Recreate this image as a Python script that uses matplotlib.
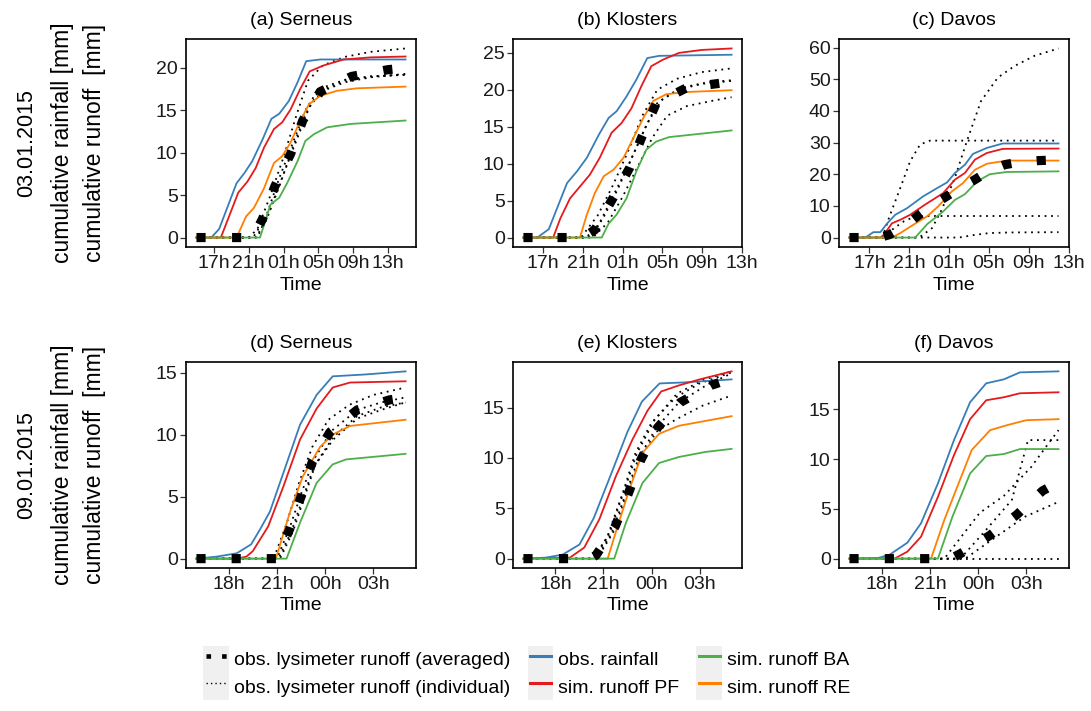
import numpy as np
import matplotlib
matplotlib.use("Agg")
import matplotlib.pyplot as plt
from matplotlib.lines import Line2D
from matplotlib.patches import Rectangle
from matplotlib.legend_handler import HandlerLine2D

plt.rcParams['font.family'] = ['Liberation Sans', 'DejaVu Sans']

# ---- event 03.01.2015 (hours since 00h on the event day) ----
a_rain = [(15, 0), (16.7, 0), (17.6, 1.0), (19.6, 6.4), (20.5, 7.6), (21.4, 9.0), (22.6, 11.6), (23.6, 14.0),
          (24.5, 14.6), (25.6, 16.1), (26.6, 18.3), (27.6, 20.8), (29.2, 21.0), (39, 21.0)]
a_pf = [(15, 0), (17.8, 0), (19.8, 5.3), (20.85, 6.6), (21.8, 8.2), (22.75, 10.6), (23.9, 12.8), (24.85, 13.6),
        (25.8, 15.1), (26.9, 17.5), (28.0, 19.6), (29.6, 20.3), (31.9, 21.0), (35, 21.25), (39, 21.35)]
a_re = [(15, 0), (19.6, 0), (20.7, 2.5), (21.6, 3.5), (22.75, 5.8), (23.9, 8.8), (24.85, 9.6), (25.8, 11.2),
        (26.75, 13.4), (27.9, 15.7), (29.2, 16.7), (31.1, 17.3), (33.4, 17.6), (39, 17.8)]
a_ba = [(15, 0), (22.3, 0), (23.5, 3.9), (24.5, 4.7), (25.4, 6.4), (26.6, 9.0), (27.5, 11.4), (28.5, 12.2),
        (30.0, 13.0), (32.7, 13.4), (39, 13.8)]
a_avg = [(15, 0), (21.5, 0), (22.6, 2.25), (24.0, 6.05), (25.8, 9.85), (27.2, 13.8), (29.2, 17.2), (32.8, 19.0),
         (37, 19.8), (39, 20.0)]
a_ind1 = [(15, 0), (21.0, 0), (22.0, 1.0), (23.5, 5.0), (25.0, 9.5), (26.5, 14.5), (27.8, 18.5), (29.5, 20.3),
          (32, 21.3), (35, 21.9), (39, 22.3)]
a_ind2 = [(15, 0), (22.0, 0), (23.5, 3.5), (25, 7.5), (26.5, 11.5), (28, 15.5), (29.5, 17.3), (32, 18.3),
          (35, 18.9), (39, 19.3)]
a_ind3 = [(15, 0), (21.5, 0), (23, 2.5), (24.5, 7), (26, 11), (27.5, 15), (29, 17.5), (32, 18.6), (35, 19.0),
          (39, 19.2)]
a_ind4 = [(15, 0), (21.8, 0), (23, 2.0), (24.5, 6), (26, 10.5), (27.5, 14.5), (29, 17.2), (32, 18.5), (35, 19.0),
          (39, 19.2)]

b_rain = [(15, 0), (16.4, 0), (17.56, 1.13), (19.4, 7.37), (20.4, 8.96), (21.4, 10.8), (22.6, 13.9), (23.6, 16.2),
          (24.4, 17.1), (25.4, 19.1), (26.4, 21.4), (27.5, 24.3), (28.7, 24.6), (36, 24.75)]
b_pf = [(15, 0), (18.0, 0), (18.73, 2.6), (19.7, 5.3), (20.7, 6.9), (21.7, 8.5), (22.7, 10.8), (23.9, 14.2),
        (24.9, 15.5), (25.9, 17.5), (26.9, 20.5), (27.9, 23.2), (29.1, 24.1), (30.7, 25.0), (33, 25.4), (36, 25.6)]
b_re = [(15, 0), (20.7, 0), (21.4, 3.1), (22.2, 6.0), (23.1, 8.3), (24.1, 9.2), (25.1, 10.8), (26.1, 13.5),
        (27.1, 16.2), (28.1, 18.5), (29.4, 19.4), (31.4, 19.7), (36, 19.95)]
b_ba = [(15, 0), (22.9, 0), (23.6, 1.9), (24.4, 3.1), (25.4, 5.3), (26.4, 9.0), (27.4, 11.9), (28.4, 13.0),
        (29.7, 13.6), (36, 14.5)]
b_avg = [(15, 0), (21.0, 0), (22.2, 1.04), (24.0, 5.25), (25.7, 9.4), (27.0, 13.8), (28.4, 18.2), (31.5, 20.3),
         (34.9, 20.9), (36, 21.1)]
b_ind1 = [(15, 0), (20.8, 0), (22.5, 3), (24, 7), (25.5, 11.5), (27, 16.5), (28.5, 20), (30.5, 21.5), (33, 22.4),
          (36, 22.9)]
b_ind2 = [(15, 0), (21.3, 0), (22.5, 1.5), (24, 5.5), (25.5, 9.5), (27, 14), (28.5, 18.2), (30.5, 20.0),
          (33, 20.8), (36, 21.2)]
b_ind3 = [(15, 0), (22, 0), (23.5, 2), (25, 5.5), (26.5, 9.5), (28, 13.5), (29.5, 16.5), (31.5, 17.8), (34, 18.5),
          (36, 19.0)]
b_ind4 = [(15, 0), (21.5, 0), (23, 2.5), (24.5, 6.5), (26, 11), (27.5, 15.5), (29, 18.7), (31, 20.3), (33.5, 21.0),
          (36, 21.3)]

c_rain = [(15, 0), (16.6, 0), (17.4, 1.7), (18.1, 1.7), (18.8, 4.5), (19.6, 7.2), (20.8, 9.3), (22.4, 13.0),
          (23.8, 15.6), (24.8, 17.4), (25.6, 20.4), (26.6, 23.0), (27.4, 26.4), (28.8, 28.3), (30.4, 29.7),
          (36, 29.7)]
c_pf = [(15, 0), (18.1, 0), (18.43, 0.8), (19.27, 4.5), (20.1, 5.6), (21.1, 7.2), (22.6, 10.4), (24.4, 14.0),
        (25.6, 18.3), (26.6, 20.4), (27.6, 24.6), (28.8, 26.7), (30.4, 28.0), (36, 28.1)]
c_re = [(15, 0), (19.27, 0), (20.1, 1.4), (21.4, 4.0), (22.8, 6.7), (23.9, 9.8), (25.3, 14.6), (26.4, 17.2),
        (27.6, 21.4), (28.8, 23.3), (30.8, 24.3), (36, 24.3)]
c_ba = [(15, 0), (21.6, 0), (22.8, 4.2), (24.4, 8.2), (25.6, 11.9), (26.6, 13.7), (27.8, 17.7), (29.1, 20.0),
        (30.8, 20.7), (36, 20.9)]
c_avg = [(15, 0), (18.0, 0), (19, 0.9), (20.5, 3.5), (21.8, 6.7), (23, 9.5), (24.5, 12.5), (26, 15.5), (27.5, 18.1),
         (29, 21.0), (30.6, 23.0), (32, 23.8), (34, 24.3), (36, 24.5)]
c_ind1 = [(15, 0), (18.3, 0), (19.0, 6.5), (20.1, 15.6), (21.1, 24.1), (22.1, 29.4), (23.1, 30.6), (36, 30.6)]
c_ind2 = [(15, 0), (22.0, 0), (23.3, 3), (24.3, 9), (25.6, 19), (26.8, 30.5), (28.2, 43), (29.9, 50.5),
          (31.6, 54.2), (33.6, 57.4), (36, 59.7)]
c_ind3 = [(15, 0), (18.3, 0), (19.5, 3), (20.5, 5.2), (21.5, 6.5), (22.5, 6.8), (36, 6.8)]
c_ind4 = [(15, 0), (26.0, 0), (27.5, 0.8), (29, 1.4), (31, 1.6), (36, 1.7)]

# ---- event 09.01.2015 ----
d_rain = [(16, 0), (17.25, 0.16), (18.5, 0.43), (19.4, 1.15), (19.95, 2.35), (20.57, 3.8), (21.4, 6.9),
          (22.44, 10.8), (23.47, 13.2), (24.47, 14.7), (26.5, 14.85), (29, 15.1)]
d_pf = [(16, 0), (18.5, 0), (19.1, 0.16), (19.5, 0.6), (20.46, 2.6), (21.4, 5.8), (22.44, 9.6), (23.47, 12.1),
        (24.47, 13.8), (25.55, 14.2), (29, 14.3)]
d_re = [(16, 0), (20.94, 0), (21.8, 3.7), (22.6, 6.6), (23.68, 9.0), (24.47, 10.0), (25.55, 10.7), (29, 11.2)]
d_ba = [(16, 0), (21.6, 0), (22.44, 2.9), (23.47, 6.1), (24.47, 7.6), (25.3, 8.0), (29, 8.45)]
d_avg = [(16, 0), (21.0, 0), (21.8, 2.4), (22.5, 5.0), (23.2, 7.8), (24.3, 10.2), (26, 12.0), (28, 12.8), (29, 13.0)]
d_ind1 = [(16, 0), (20.8, 0), (21.6, 2.8), (22.4, 6.2), (23.2, 9), (24.2, 11.2), (25.5, 12.4), (27, 13.2), (29, 13.8)]
d_ind2 = [(16, 0), (21.0, 0), (21.8, 2.5), (22.5, 5.2), (23.3, 8.0), (24.4, 10.3), (26, 12.0), (27.5, 12.6),
          (29, 13.0)]
d_ind3 = [(16, 0), (21.1, 0), (21.9, 2.2), (22.6, 4.8), (23.3, 7.4), (24.5, 9.6), (26, 11.3), (27.5, 12.0),
          (29, 12.6)]
d_ind4 = [(16, 0), (21.2, 0), (22, 2.2), (22.7, 4.9), (23.4, 7.6), (24.5, 9.8), (26, 11.5), (27.5, 12.2), (29, 12.6)]

e_rain = [(16, 0), (17.4, 0.1), (18.45, 0.4), (19.5, 1.4), (20.4, 4.05), (21.5, 8.5), (22.5, 12.6), (23.4, 15.6),
          (24.5, 17.4), (26, 17.5), (29, 17.8)]
e_pf = [(16, 0), (18.9, 0.1), (19.8, 1.1), (20.74, 3.9), (21.78, 8.2), (22.8, 11.8), (23.75, 14.7), (24.6, 16.6),
        (25.7, 17.2), (27, 17.8), (29, 18.6)]
e_re = [(16, 0), (21.26, 0), (21.88, 3.2), (22.6, 6.8), (23.43, 10.5), (24.47, 12.4), (25.72, 13.2), (29, 14.15)]
e_ba = [(16, 0), (21.67, 0), (22.4, 3.55), (23.43, 7.5), (24.47, 9.5), (25.72, 10.1), (27.38, 10.6), (29, 10.9)]
e_avg = [(16, 0), (20.2, 0), (20.53, 0.33), (21.73, 3.2), (22.56, 6.5), (23.33, 9.8), (24.37, 13.0), (25.78, 15.5),
         (27.7, 17.2), (29, 17.9)]
e_ind1 = [(16, 0), (20.3, 0), (21.2, 2), (22.2, 6.5), (23, 10.5), (24, 13.5), (25.5, 16.0), (27, 17.4), (29, 18.5)]
e_ind2 = [(16, 0), (20.5, 0), (21.5, 2.5), (22.4, 6.5), (23.2, 10), (24.3, 13), (25.7, 15.5), (27.5, 17.3),
          (29, 18.4)]
e_ind3 = [(16, 0), (20.6, 0), (21.6, 2.6), (22.5, 6.6), (23.3, 10), (24.3, 12.6), (25.5, 13.8), (27.2, 15.2),
          (29, 16.2)]
e_ind4 = [(16, 0), (20.4, 0), (21.4, 2.6), (22.3, 6.8), (23.1, 10.5), (24.2, 13.8), (25.6, 16.4), (27.3, 17.8),
          (29, 18.6)]

f_rain = [(16, 0), (17.8, 0.07), (18.5, 0.4), (19.6, 1.6), (20.45, 3.55), (21.5, 7.55), (22.5, 11.9), (23.5, 15.7),
          (24.5, 17.6), (25.6, 18.0), (26.6, 18.7), (29, 18.8)]
f_pf = [(16, 0), (18.8, 0), (19.6, 0.7), (20.45, 2.2), (21.5, 6.2), (22.5, 10.4), (23.5, 14.0), (24.5, 15.9),
        (25.6, 16.2), (26.6, 16.6), (29, 16.7)]
f_re = [(16, 0), (21.07, 0), (21.9, 3.9), (22.7, 7.2), (23.6, 10.9), (24.75, 12.9), (25.8, 13.4), (27.0, 13.9),
        (29, 14.0)]
f_ba = [(16, 0), (21.5, 0), (22.4, 4.2), (23.5, 8.55), (24.5, 10.3), (25.6, 10.5), (26.6, 11.0), (29, 11.0)]
f_avg = [(16, 0), (22.3, 0), (22.9, 0.5), (24.7, 2.3), (26.4, 4.4), (28, 6.8), (29, 7.7)]
f_ind1 = [(16, 0), (21.9, 0), (24.1, 4.6), (25.6, 6.3), (27.3, 9.2), (28.3, 11.4), (29, 12.9)]
f_ind2 = [(16, 0), (22.9, 0), (24.5, 2.9), (26.1, 5.9), (26.7, 9.5), (27.1, 11.9), (29, 11.9)]
f_ind3 = [(16, 0), (23.2, 0), (25.3, 2.4), (26.9, 4.2), (29, 5.7)]
f_ind4 = [(16, 0), (29, 0)]

titles = ['(a) Serneus', '(b) Klosters', '(c) Davos', '(d) Serneus', '(e) Klosters', '(f) Davos']
row_dates = ['03.01.2015', '09.01.2015']

top_ticks = [17, 21, 25, 29, 33, 37]
top_ticklabels = ['17h', '21h', '01h', '05h', '09h', '13h']
bot_ticks = [18, 21, 24, 27]
bot_ticklabels = ['18h', '21h', '00h', '03h']
y_ticks = [[0, 5, 10, 15, 20], [0, 5, 10, 15, 20, 25], [0, 10, 20, 30, 40, 50, 60],
           [0, 5, 10, 15], [0, 5, 10, 15], [0, 5, 10, 15]]

c_rain_col = '#377EB8'
c_pf_col = '#E41A1C'
c_ba_col = '#4DAF4A'
c_re_col = '#FF7F00'

panels = [
    (a_rain, a_pf, a_re, a_ba, a_avg, [a_ind1, a_ind2, a_ind3, a_ind4]),
    (b_rain, b_pf, b_re, b_ba, b_avg, [b_ind1, b_ind2, b_ind3, b_ind4]),
    (c_rain, c_pf, c_re, c_ba, c_avg, [c_ind1, c_ind2, c_ind3, c_ind4]),
    (d_rain, d_pf, d_re, d_ba, d_avg, [d_ind1, d_ind2, d_ind3, d_ind4]),
    (e_rain, e_pf, e_re, e_ba, e_avg, [e_ind1, e_ind2, e_ind3, e_ind4]),
    (f_rain, f_pf, f_re, f_ba, f_avg, [f_ind1, f_ind2, f_ind3, f_ind4]),
]

W, H = 1091, 711
DPI = 100
fig = plt.figure(figsize=(W / DPI, H / DPI), dpi=DPI)

# axes boxes in pixels: left, top, right, bottom
col_px = [(186, 416), (513, 742), (839, 1069)]
row_px = [(39, 247), (362, 568)]

AVG_LW = 6.6      # thick dotted line -> rotated squares
AVG_GAP = 2.7     # gap between squares, in linewidths
IND_STYLE = dict(color='black', lw=1.3, linestyle=(0, (1, 2.6)), dash_capstyle='butt', zorder=2)
FS = 14


def xy(pts):
    arr = np.array(pts, dtype=float)
    return arr[:, 0], arr[:, 1]


def fit_dots(ax, line):
    # stretch the gap a little so the dotted line ends in the middle of a gap
    pix = ax.transData.transform(np.column_stack(line.get_data()))
    length = np.sum(np.hypot(*np.diff(pix, axis=0).T)) * 72 / DPI
    period = AVG_LW * (1 + AVG_GAP)
    n = max(1, round((length - AVG_LW / 2) / period - 0.5))
    new_period = (length - AVG_LW / 2) / (n + 0.5)
    line.set_linestyle((0, (1, new_period / AVG_LW - 1)))


for i, (rain, pf, re, ba, avg, inds) in enumerate(panels):
    r, c = divmod(i, 3)
    x0, x1 = col_px[c]
    y0, y1 = row_px[r]
    ax = fig.add_axes([x0 / W, 1 - y1 / H, (x1 - x0) / W, (y1 - y0) / H])

    for ind in inds:
        ax.plot(*xy(ind), **IND_STYLE)
    ax.plot(*xy(rain), color=c_rain_col, lw=1.3, zorder=3)
    ax.plot(*xy(pf), color=c_pf_col, lw=1.3, zorder=3)
    ax.plot(*xy(re), color=c_re_col, lw=1.3, zorder=3)
    ax.plot(*xy(ba), color=c_ba_col, lw=1.3, zorder=3)
    avg_line, = ax.plot(*xy(avg), color='black', lw=AVG_LW, linestyle=(0, (1, AVG_GAP)),
                        dash_capstyle='butt', zorder=5)

    ax.margins(0.05)
    if r == 0:
        ax.set_xticks(top_ticks)
        ax.set_xticklabels(top_ticklabels)
    else:
        ax.set_xticks(bot_ticks)
        ax.set_xticklabels(bot_ticklabels)
    ax.set_yticks(y_ticks[i])
    ax.autoscale_view()
    fit_dots(ax, avg_line)

    ax.set_xlabel('Time', fontsize=FS, labelpad=3)
    ax.set_title(titles[i], fontsize=FS, pad=10)
    ax.tick_params(direction='out', length=4, width=0.9, color='#333333', labelsize=FS,
                   labelcolor='#1a1a1a', pad=2)
    for sp in ax.spines.values():
        sp.set_linewidth(1.2)
        sp.set_color('black')

# row labels on the left
for r, date in enumerate(row_dates):
    yc = 1 - (row_px[r][0] + row_px[r][1]) / 2 / H
    fig.text(27 / W, yc, date, rotation=90, ha='center', va='center', fontsize=15.5)
    fig.text(63 / W, yc, 'cumulative rainfall [mm]', rotation=90, ha='center', va='center', fontsize=16.5)
    fig.text(95 / W, yc, 'cumulative runoff  [mm]', rotation=90, ha='center', va='center', fontsize=16.5)


class KeyHandler(HandlerLine2D):
    # legend line drawn on a light grey key box
    def create_artists(self, legend, orig_handle, xdescent, ydescent, width, height, fontsize, trans):
        arts = super().create_artists(legend, orig_handle, xdescent, ydescent, width, height, fontsize, trans)
        pad = 1.6
        bg = Rectangle((-xdescent - pad, -ydescent), width + 2 * pad, height,
                       facecolor='#f0f0f0', edgecolor='none', transform=trans, zorder=0)
        return [bg] + list(arts)


handles = [
    Line2D([], [], color='black', lw=3.3, linestyle=(0, (1, 2.4)), dash_capstyle='butt'),
    Line2D([], [], color='black', lw=1.0, linestyle=(0, (1, 2.2)), dash_capstyle='butt'),
    Line2D([], [], color=c_rain_col, lw=2.2),
    Line2D([], [], color=c_pf_col, lw=2.2),
    Line2D([], [], color=c_ba_col, lw=2.2),
    Line2D([], [], color=c_re_col, lw=2.2),
]
labels = ['obs. lysimeter runoff (averaged)', 'obs. lysimeter runoff (individual)', 'obs. rainfall',
          'sim. runoff PF', 'sim. runoff BA', 'sim. runoff RE']
fig.legend(handles, labels, ncol=3, loc='center', bbox_to_anchor=(528 / W, 1 - 673 / H),
           frameon=False, fontsize=FS, handlelength=1.1, handleheight=1.75, labelspacing=0.05,
           handletextpad=0.36, columnspacing=1.0, borderpad=0,
           handler_map={Line2D: KeyHandler()})

fig.savefig('out.png', dpi=DPI)
